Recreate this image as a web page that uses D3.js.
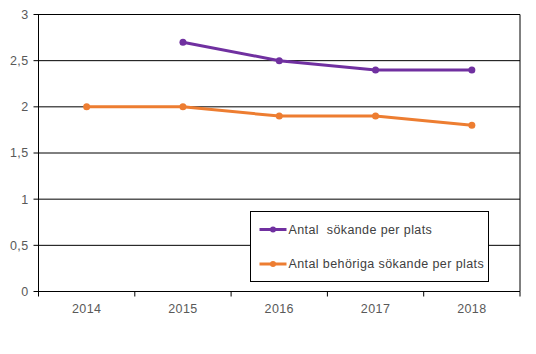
<!DOCTYPE html>
<html>
<head>
<meta charset="utf-8">
<script src="https://cdn.jsdelivr.net/npm/d3@7"></script>
<style>
  body { margin: 0; background: #fff; }
  text { font-family: "Liberation Sans", Arial, sans-serif; }
</style>
</head>
<body>
<div id="chart"></div>
<script>
// chart data
const years = ["2014", "2015", "2016", "2017", "2018"];
const sokande = [null, 2.7, 2.5, 2.4, 2.4];
const behoriga = [2, 2, 1.9, 1.9, 1.8];
const seriesNames = ["Antal  sökande per plats", "Antal behöriga sökande per plats"];
const yTicks = [0, 0.5, 1, 1.5, 2, 2.5, 3];

const width = 536, height = 354;
const margin = {left: 38.5, right: 16, top: 14.5, bottom: 62.5};

const svg = d3.select("#chart").append("svg")
    .attr("width", width)
    .attr("height", height);

const x = d3.scaleBand()
    .domain(years)
    .range([margin.left, width - margin.right]);

const y = d3.scaleLinear()
    .domain([0, 3])
    .range([height - margin.bottom, margin.top]);

const fmt = d => String(d).replace(".", ",");

// gridlines
svg.append("g")
    .selectAll("line")
    .data(yTicks)
    .enter().append("line")
    .attr("x1", margin.left - 5)
    .attr("x2", width - margin.right)
    .attr("y1", d => y(d))
    .attr("y2", d => y(d))
    .attr("stroke", "#000")
    .attr("stroke-width", 1);

// left and right borders
svg.append("line")
    .attr("x1", margin.left).attr("x2", margin.left)
    .attr("y1", y(3)).attr("y2", y(0))
    .attr("stroke", "#000");
svg.append("line")
    .attr("x1", width - margin.right).attr("x2", width - margin.right)
    .attr("y1", y(3)).attr("y2", y(0))
    .attr("stroke", "#000");

// y labels
svg.append("g")
    .selectAll("text")
    .data(yTicks)
    .enter().append("text")
    .attr("x", margin.left - 10)
    .attr("y", d => y(d))
    .attr("dy", "0.35em")
    .attr("text-anchor", "end")
    .style("font-size", "12.5px")
    .style("letter-spacing", "0.4px")
    .style("fill", "#595959")
    .text(fmt);

// x ticks between categories
const bounds = years.map(d => x(d)).concat([x(years[years.length - 1]) + x.bandwidth()]);
svg.append("g")
    .selectAll("line")
    .data(bounds)
    .enter().append("line")
    .attr("x1", d => d).attr("x2", d => d)
    .attr("y1", y(0)).attr("y2", y(0) + 5)
    .attr("stroke", "#000");

// x labels
svg.append("g")
    .selectAll("text")
    .data(years)
    .enter().append("text")
    .attr("x", d => x(d) + x.bandwidth() / 2)
    .attr("y", y(0) + 21)
    .attr("text-anchor", "middle")
    .style("font-size", "12.5px")
    .style("letter-spacing", "0.4px")
    .style("fill", "#595959")
    .text(d => d);

const colors = ["#7030A0", "#ED7D31"];
const allSeries = [sokande, behoriga];

const line = d3.line()
    .defined(d => d.v != null)
    .x(d => x(d.year) + x.bandwidth() / 2)
    .y(d => y(d.v));

allSeries.forEach((vals, i) => {
    const pts = years.map((yr, j) => ({year: yr, v: vals[j]}));
    svg.append("path")
        .datum(pts)
        .attr("d", line)
        .attr("fill", "none")
        .attr("stroke", colors[i])
        .attr("stroke-width", 3);
    svg.append("g")
        .selectAll("circle")
        .data(pts.filter(d => d.v != null))
        .enter().append("circle")
        .attr("cx", d => x(d.year) + x.bandwidth() / 2)
        .attr("cy", d => y(d.v))
        .attr("r", 3.5)
        .attr("fill", colors[i]);
});

// legend
const legend = svg.append("g").attr("transform", "translate(250.5,211.5)");
legend.append("rect")
    .attr("width", 238)
    .attr("height", 70)
    .attr("fill", "#fff")
    .attr("stroke", "#000");

seriesNames.forEach((name, i) => {
    const ly = 18 + i * 34.5;
    legend.append("line")
        .attr("x1", 9).attr("x2", 36)
        .attr("y1", ly).attr("y2", ly)
        .attr("stroke", colors[i])
        .attr("stroke-width", 3);
    legend.append("circle")
        .attr("cx", 22.5).attr("cy", ly)
        .attr("r", 3)
        .attr("fill", colors[i]);
    legend.append("text")
        .attr("x", 38)
        .attr("y", ly)
        .attr("dy", "0.35em")
        .style("font-size", "12.5px")
        .style("letter-spacing", "0.4px")
        .style("fill", "#404040")
        .style("white-space", "pre")
        .text(name);
});
</script>
</body>
</html>
